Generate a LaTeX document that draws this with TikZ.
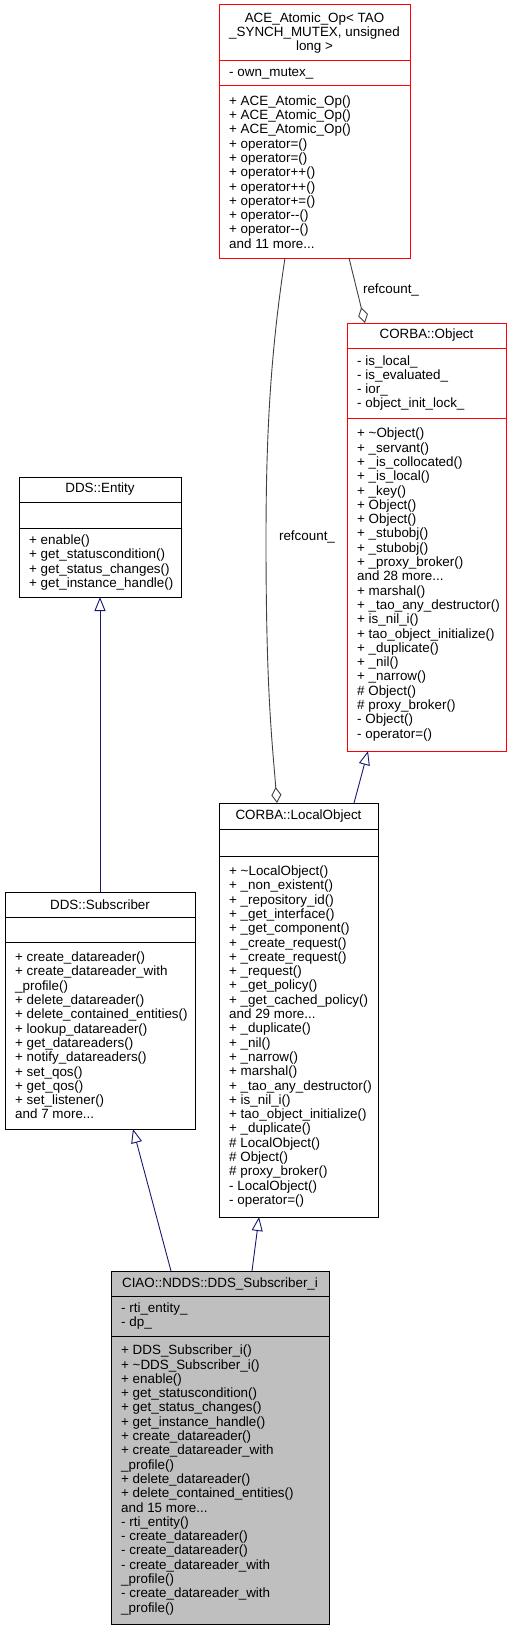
\documentclass[tikz,border=0pt]{standalone}
\usepackage{fontspec}
\setmainfont{Liberation Sans}
\usetikzlibrary{arrows.meta,calc}
\definecolor{edgered}{HTML}{FF0000}
\definecolor{navyline}{HTML}{191970}
\definecolor{grayline}{HTML}{404040}
\definecolor{boxgray}{HTML}{BFBFBF}
\newcommand\umlfont{\fontsize{13.4}{14.3}\selectfont}
\begin{document}
\begin{tikzpicture}[x=1pt,y=-1pt,
  umlbox/.style={draw=black, line width=1pt, inner sep=0pt, outer sep=0pt, anchor=north west, fill=white},
  redbox/.style={umlbox, draw=edgered},
  graybox/.style={umlbox, fill=boxgray},
  sepline/.style={line width=1pt, draw=black},
  redsep/.style={sepline, draw=edgered},
  titletext/.style={font=\umlfont, align=center, inner sep=0pt},
  membertext/.style={font=\umlfont, align=left, anchor=west, inner sep=0pt},
  inh/.style={draw=navyline, line width=0.9pt, -{Triangle[open, length=14pt, width=11pt, fill=white]}},
  agg/.style={draw=grayline, line width=0.9pt, -{Diamond[open, length=16pt, width=10pt, fill=white]}},
  lbl/.style={font=\umlfont, inner sep=0pt}
]
\useasboundingbox (0,0) rectangle (512,1632);

% ACE_Atomic_Op
\node[redbox, minimum width=191pt, minimum height=253pt] (ace) at (219,5) {};
\draw[redsep] (219,61) -- (410,61);
\draw[redsep] (219,86) -- (410,86);
\node[titletext] (acet) at (314.5,33) {ACE\_Atomic\_Op\textless{} TAO\\\_SYNCH\_MUTEX, unsigned\\long \textgreater{}};
\node[membertext] (acea) at (229,73.5) {- own\_mutex\_};
\node[membertext] (acem) at (229,172) {+ ACE\_Atomic\_Op()\\+ ACE\_Atomic\_Op()\\+ ACE\_Atomic\_Op()\\+ operator=()\\+ operator=()\\+ operator++()\\+ operator++()\\+ operator+=()\\+ operator-{}-()\\+ operator-{}-()\\and 11 more...};

% CORBA::Object
\node[redbox, minimum width=159pt, minimum height=428pt] (obj) at (347,323) {};
\draw[redsep] (347,348) -- (506,348);
\draw[redsep] (347,418) -- (506,418);
\node[titletext] (objt) at (426.5,335.5) {CORBA::Object};
\node[membertext] (obja) at (357,383) {- is\_local\_\\- is\_evaluated\_\\- ior\_\\- object\_init\_lock\_};
\node[membertext] (objm) at (357,584.5) {+ \textasciitilde Object()\\+ \_servant()\\+ \_is\_collocated()\\+ \_is\_local()\\+ \_key()\\+ Object()\\+ Object()\\+ \_stubobj()\\+ \_stubobj()\\+ \_proxy\_broker()\\and 28 more...\\+ marshal()\\+ \_tao\_any\_destructor()\\+ is\_nil\_i()\\+ tao\_object\_initialize()\\+ \_duplicate()\\+ \_nil()\\+ \_narrow()\\\# Object()\\\# proxy\_broker()\\- Object()\\- operator=()};

% DDS::Entity
\node[umlbox, minimum width=162pt, minimum height=120pt] (ent) at (19,477) {};
\draw[sepline] (19,502) -- (181,502);
\draw[sepline] (19,528) -- (181,528);
\node[titletext] (entt) at (100,489.5) {DDS::Entity};
\node[membertext] (entm) at (29,562.5) {+ enable()\\+ get\_statuscondition()\\+ get\_status\_changes()\\+ get\_instance\_handle()};

% CORBA::LocalObject
\node[umlbox, minimum width=159pt, minimum height=414pt] (lobj) at (219,803) {};
\draw[sepline] (219,829) -- (378,829);
\draw[sepline] (219,856) -- (378,856);
\node[titletext] (lobjt) at (298.5,816) {CORBA::LocalObject};
\node[membertext] (lobjm) at (229,1036.5) {+ \textasciitilde LocalObject()\\+ \_non\_existent()\\+ \_repository\_id()\\+ \_get\_interface()\\+ \_get\_component()\\+ \_create\_request()\\+ \_create\_request()\\+ \_request()\\+ \_get\_policy()\\+ \_get\_cached\_policy()\\and 29 more...\\+ \_duplicate()\\+ \_nil()\\+ \_narrow()\\+ marshal()\\+ \_tao\_any\_destructor()\\+ is\_nil\_i()\\+ tao\_object\_initialize()\\+ \_duplicate()\\\# LocalObject()\\\# Object()\\\# proxy\_broker()\\- LocalObject()\\- operator=()};

% DDS::Subscriber
\node[umlbox, minimum width=190pt, minimum height=237pt] (sub) at (5,892) {};
\draw[sepline] (5,917) -- (195,917);
\draw[sepline] (5,942) -- (195,942);
\node[titletext] (subt) at (100,904.5) {DDS::Subscriber};
\node[membertext] (subm) at (15,1035.5) {+ create\_datareader()\\+ create\_datareader\_with\\\_profile()\\+ delete\_datareader()\\+ delete\_contained\_entities()\\+ lookup\_datareader()\\+ get\_datareaders()\\+ notify\_datareaders()\\+ set\_qos()\\+ get\_qos()\\+ set\_listener()\\and 7 more...};

% CIAO::NDDS::DDS_Subscriber_i
\node[graybox, minimum width=218pt, minimum height=353pt] (ciao) at (111,1271) {};
\draw[sepline] (111,1296) -- (329,1296);
\draw[sepline] (111,1336) -- (329,1336);
\node[titletext] (ciaot) at (220,1283.5) {CIAO::NDDS::DDS\_Subscriber\_i};
\node[membertext] (ciaoa) at (121,1316) {- rti\_entity\_\\- dp\_};
\node[membertext] (ciaom) at (121,1480) {+ DDS\_Subscriber\_i()\\+ \textasciitilde DDS\_Subscriber\_i()\\+ enable()\\+ get\_statuscondition()\\+ get\_status\_changes()\\+ get\_instance\_handle()\\+ create\_datareader()\\+ create\_datareader\_with\\\_profile()\\+ delete\_datareader()\\+ delete\_contained\_entities()\\and 15 more...\\- rti\_entity()\\- create\_datareader()\\- create\_datareader()\\- create\_datareader\_with\\\_profile()\\- create\_datareader\_with\\\_profile()};

% inheritance
\draw[inh] (sub.north) -- (ent.south);
\draw[inh] ($(ciao.north west)+(60,0)$) -- ($(sub.south west)+(128,0)$);
\draw[inh] ($(ciao.north west)+(141,0)$) -- ($(lobj.south west)+(40,0)$);
\draw[inh] ($(lobj.north west)+(135,0)$) -- ($(obj.south west)+(21,0)$);

% aggregation
\draw[agg] ($(ace.south west)+(130,0)$) -- ($(obj.north west)+(18,0)$);
\draw[agg] ($(ace.south west)+(66,0)$) .. controls (271,350) and (266,430) .. (266,540) .. controls (266,690) and (272,740) .. ($(lobj.north west)+(58,0)$);
\node[lbl] (rc1) at (391,290) {refcount\_};
\node[lbl] (rc2) at (307,537) {refcount\_};
\end{tikzpicture}
\end{document}
